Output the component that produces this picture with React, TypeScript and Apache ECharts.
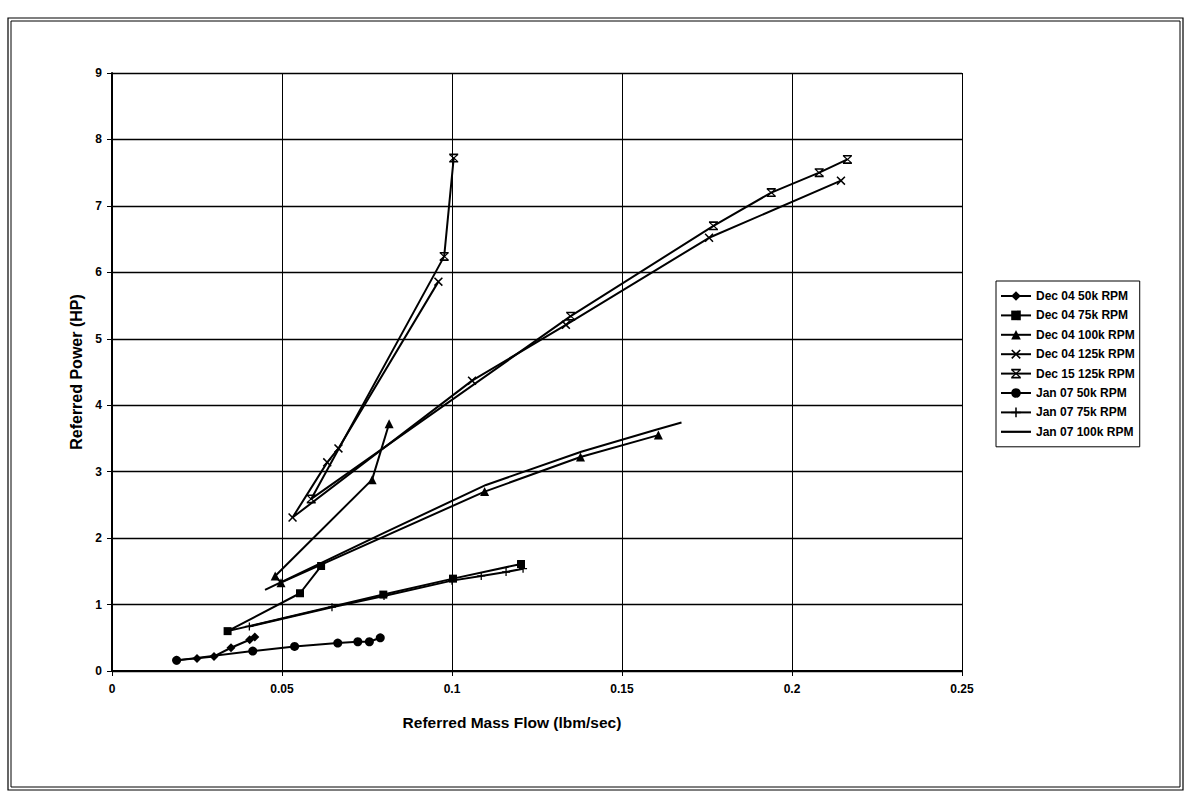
import React, { useEffect, useRef } from "react";
import * as echarts from "echarts";

const FONT = "'Liberation Sans', Arial, sans-serif";

const xTicks = [0, 0.05, 0.1, 0.15, 0.2, 0.25];
const yTicks = [0, 1, 2, 3, 4, 5, 6, 7, 8, 9];

const seriesNames = [
  "Dec 04 50k RPM",
  "Dec 04 75k RPM",
  "Dec 04 100k RPM",
  "Dec 04 125k RPM",
  "Dec 15 125k RPM",
  "Jan 07 50k RPM",
  "Jan 07 75k RPM",
  "Jan 07 100k RPM",
];

const dec04_50k = [
  [0.042, 0.51], [0.0405, 0.47], [0.035, 0.35], [0.03, 0.22], [0.025, 0.19], [0.019, 0.16],
];
const dec04_75k = [
  [0.0615, 1.58], [0.0553, 1.17], [0.034, 0.6], [0.0798, 1.15], [0.1003, 1.39], [0.1203, 1.61],
];
const dec04_100k = [
  [0.0815, 3.72], [0.0765, 2.88], [0.048, 1.43], [0.0497, 1.33], [0.1096, 2.7], [0.1378, 3.22], [0.1607, 3.55],
];
const dec04_125k = [
  [0.096, 5.86], [0.0666, 3.35], [0.0633, 3.14], [0.0531, 2.31], [0.1059, 4.37], [0.1335, 5.21], [0.1756, 6.52], [0.2144, 7.38],
];
const dec15_125k = [
  [0.1005, 7.72], [0.0977, 6.24], [0.0586, 2.59], [0.1349, 5.34], [0.1769, 6.7], [0.1939, 7.2], [0.208, 7.5], [0.2163, 7.7],
];
const jan07_50k = [
  [0.019, 0.16], [0.0414, 0.3], [0.0537, 0.37], [0.0664, 0.42], [0.0723, 0.44], [0.0757, 0.44], [0.0789, 0.5],
];
const jan07_75k = [
  [0.0404, 0.67], [0.0647, 0.96], [0.08, 1.13], [0.1, 1.36], [0.1086, 1.43], [0.1159, 1.49], [0.1209, 1.54],
];
const jan07_100k = [
  [0.045, 1.22], [0.08, 2.08], [0.11, 2.8], [0.138, 3.3], [0.16, 3.63], [0.1675, 3.74],
];

const X_PATH = "path://M0,1.2L1.2,0L5,3.8L8.8,0L10,1.2L6.2,5L10,8.8L8.8,10L5,6.2L1.2,10L0,8.8L3.8,5Z";
const STAR_PATH =
  "path://M0,0H10V1.8H0Z M0,8.2H10V10H0Z M0.3,1.8L2.2,1.8L5,4.2L7.8,1.8L9.7,1.8L6.1,5L9.7,8.2L7.8,8.2L5,5.8L2.2,8.2L0.3,8.2L3.9,5Z";
const PLUS_PATH = "path://M4.2,0H5.8V4.2H10V5.8H5.8V10H4.2V5.8H0V4.2H4.2Z";
const LINE_ICON = "path://M0,0H30V2.2H0Z";

const seriesData = [dec04_50k, dec04_75k, dec04_100k, dec04_125k, dec15_125k, jan07_50k, jan07_75k, jan07_100k];
const seriesSymbols = ["diamond", "rect", "triangle", X_PATH, STAR_PATH, "circle", PLUS_PATH, "none"];
const seriesSymbolSizes = [9, 8, 9, 9, 9, 9, 8, 0];

export default function App() {
  const ref = useRef<HTMLDivElement>(null);
  useEffect(() => {
    const chart = echarts.init(ref.current!, null, { renderer: "svg" });
    chart.setOption({
      animation: false,
      backgroundColor: "#fff",
      textStyle: { fontFamily: FONT, color: "#000" },
      grid: { left: 112, right: 226, top: 73, bottom: 122, containLabel: false },
      xAxis: {
        type: "value",
        min: xTicks[0],
        max: xTicks[xTicks.length - 1],
        interval: 0.05,
        name: "Referred Mass Flow (lbm/sec)",
        nameLocation: "middle",
        nameGap: 43,
        nameTextStyle: { fontFamily: FONT, fontSize: 15.5, fontWeight: "bold", color: "#000", padding: [0, 50, 0, 0] },
        axisLine: { show: true, lineStyle: { color: "#000", width: 2 } },
        axisTick: { show: true, length: 5, lineStyle: { color: "#000", width: 1 } },
        axisLabel: {
          margin: 12,
          fontFamily: FONT,
          fontSize: 12,
          fontWeight: "bold",
          color: "#000",
          formatter: (v: number) => String(+v.toFixed(2)),
        },
        splitLine: { show: true, lineStyle: { color: "#000", width: 1 } },
      },
      yAxis: {
        type: "value",
        min: yTicks[0],
        max: yTicks[yTicks.length - 1],
        interval: 1,
        name: "Referred Power (HP)",
        nameLocation: "middle",
        nameGap: 21,
        nameTextStyle: { fontFamily: FONT, fontSize: 16, fontWeight: "bold", color: "#000" },
        axisLine: { show: true, lineStyle: { color: "#000", width: 2 } },
        axisTick: { show: true, length: 5, lineStyle: { color: "#000", width: 1 } },
        axisLabel: { margin: 10, fontFamily: FONT, fontSize: 12, fontWeight: "bold", color: "#000" },
        splitLine: { show: true, lineStyle: { color: "#000", width: 1.3 } },
      },
      legend: {
        orient: "vertical",
        left: 996,
        top: 281,
        itemWidth: 30,
        itemHeight: 12,
        itemGap: 7.4,
        itemTextGap: 3,
        padding: [9, 5, 9, 4],
        borderColor: "#000",
        borderWidth: 1,
        backgroundColor: "#fff",
        textStyle: { fontFamily: FONT, fontSize: 12, fontWeight: "bold", color: "#000", lineHeight: 12 },
        data: seriesNames.map((name, i) =>
          seriesSymbols[i] === "none" ? { name, icon: LINE_ICON, itemStyle: { color: "#000" } } : { name }
        ),
      },
      graphic: [
        {
          type: "rect",
          silent: true,
          shape: { x: 8, y: 18, width: 1175, height: 772 },
          style: { fill: "none", stroke: "#000", lineWidth: 1.2 },
        },
        {
          type: "rect",
          silent: true,
          shape: { x: 11, y: 21, width: 1169, height: 766 },
          style: { fill: "none", stroke: "#000", lineWidth: 1 },
        },
      ],
      series: seriesNames.map((name, i) => ({
        name,
        type: "line",
        data: seriesData[i],
        symbol: seriesSymbols[i],
        symbolSize: seriesSymbolSizes[i],
        showSymbol: seriesSymbols[i] !== "none",
        lineStyle: { color: "#000", width: 2 },
        itemStyle: { color: "#000" },
        emphasis: { disabled: true },
      })),
    });
    return () => chart.dispose();
  }, []);
  return (
    <div
      ref={ref}
      style={{ position: "absolute", left: 0, top: 0, width: 1188, height: 793, background: "#fff" }}
    />
  );
}
